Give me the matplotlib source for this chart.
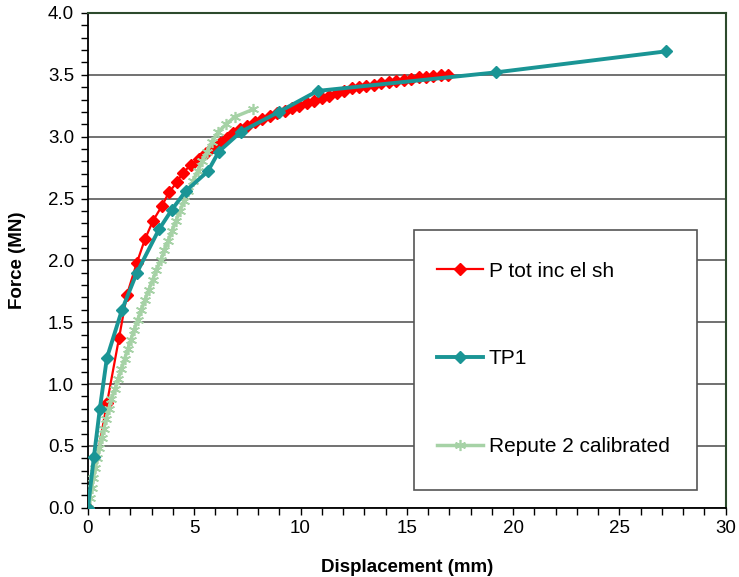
import numpy as np
import matplotlib
matplotlib.use("Agg")
import matplotlib.pyplot as plt
from matplotlib.ticker import MultipleLocator
from matplotlib.patches import Rectangle

plt.rcParams['font.family'] = ['Liberation Sans', 'DejaVu Sans']

# P tot inc el sh
ptot_x = [0, 0.9, 1.46, 1.83, 2.3, 2.68, 3.06, 3.48, 3.81, 4.18, 4.47, 4.84, 5.22, 5.55,
          5.88, 6.2, 6.53, 6.82, 7.15, 7.5, 7.85, 8.2, 8.55, 8.9, 9.25, 9.6, 9.95, 10.3,
          10.65, 11.0, 11.35, 11.7, 12.05, 12.4, 12.75, 13.1, 13.45, 13.8, 14.15, 14.5,
          14.85, 15.2, 15.55, 15.9, 16.25, 16.6, 16.95]
ptot_y = [0, 0.85, 1.37, 1.72, 1.98, 2.17, 2.32, 2.44, 2.55, 2.63, 2.71, 2.77, 2.82, 2.87,
          2.92, 2.95, 2.99, 3.03, 3.06, 3.09, 3.12, 3.14, 3.17, 3.19, 3.21, 3.23, 3.25, 3.27,
          3.29, 3.31, 3.33, 3.35, 3.37, 3.39, 3.40, 3.41, 3.42, 3.43, 3.44, 3.45,
          3.46, 3.47, 3.48, 3.48, 3.49, 3.50, 3.50]

# TP1
tp1_x = [0, 0.28, 0.56, 0.89, 1.6, 2.3, 3.34, 3.95, 4.6, 5.64, 6.16, 7.2, 8.98, 10.8, 19.2, 27.2]
tp1_y = [0, 0.41, 0.80, 1.21, 1.60, 1.90, 2.25, 2.41, 2.56, 2.72, 2.88, 3.04, 3.20, 3.37, 3.52, 3.69]

# Repute 2 calibrated
rep_x = [0.00, 0.08, 0.17, 0.26, 0.35, 0.44, 0.54, 0.64, 0.75, 0.86, 0.98, 1.10, 1.28, 1.42,
         1.57, 1.72, 1.87, 2.02, 2.18, 2.34, 2.51, 2.68, 2.86, 3.04, 3.22, 3.42, 3.60, 3.78,
         3.96, 4.14, 4.33, 4.52, 4.72, 4.94, 5.16, 5.38, 5.60, 5.84, 6.14, 6.50, 6.90, 7.76]
rep_y = [0.00, 0.08, 0.16, 0.24, 0.32, 0.40, 0.48, 0.56, 0.64, 0.72, 0.80, 0.88, 0.96, 1.04,
         1.12, 1.20, 1.28, 1.36, 1.44, 1.52, 1.60, 1.68, 1.76, 1.84, 1.92, 2.00, 2.08, 2.16,
         2.24, 2.32, 2.40, 2.48, 2.56, 2.64, 2.72, 2.80, 2.88, 2.96, 3.04, 3.10, 3.16, 3.22]

RED = '#FF0000'
TEAL = '#1A9595'
LGREEN = '#A6D2A6'

fig = plt.figure(figsize=(7.39, 5.77), dpi=100)
ax = fig.add_axes([0.119, 0.12, 0.863, 0.8575])

ax.plot(ptot_x, ptot_y, color=RED, lw=1.6, marker='D', ms=6,
        label='P tot inc el sh', zorder=3)
ax.plot(tp1_x, tp1_y, color=TEAL, lw=2.8, marker='D', ms=6.5,
        label='TP1', zorder=5)
ax.plot(rep_x, rep_y, color=LGREEN, lw=2.5, marker=(6, 2, 0), ms=8, mew=1.2,
        label='Repute 2 calibrated', zorder=4)

ax.set_xlim(0, 30)
ax.set_ylim(0, 4.0)
ax.xaxis.set_major_locator(MultipleLocator(5))
ax.xaxis.set_minor_locator(MultipleLocator(1))
ax.yaxis.set_major_locator(MultipleLocator(0.5))
ax.yaxis.set_minor_locator(MultipleLocator(0.1))
ax.yaxis.set_major_formatter(matplotlib.ticker.FormatStrFormatter('%.1f'))
ax.tick_params(which='both', direction='out', length=5, width=1, labelsize=13.5, colors='black')
ax.tick_params(axis='x', pad=4)
ax.tick_params(axis='y', pad=5)

ax.grid(axis='y', which='major', color='#4a4a4a', lw=1.1)
ax.set_axisbelow(True)

for s in ['left', 'bottom']:
    ax.spines[s].set_color('black')
    ax.spines[s].set_linewidth(1.3)
for s in ['top', 'right']:
    ax.spines[s].set_color('#2C4A2C')
    ax.spines[s].set_linewidth(1.5)

ax.set_xlabel('Displacement (mm)', fontsize=13.5, fontweight='bold', labelpad=16)
ax.set_ylabel('Force (MN)', fontsize=13.5, fontweight='bold', labelpad=16)

# legend box drawn separately so its size can match
box = Rectangle((0.511, 0.036), 0.4435, 0.526, transform=ax.transAxes,
                facecolor='white', edgecolor='#555555', lw=1.2, zorder=6)
ax.add_patch(box)

handles, labels = ax.get_legend_handles_labels()
leg = ax.legend(handles, labels, loc='center left',
                bbox_to_anchor=(0.511, 0.301), fontsize=15, frameon=False,
                labelspacing=3.3, borderpad=1.1, handlelength=2.2, handletextpad=0.3,
                borderaxespad=0)
leg.set_zorder(7)

fig.savefig('out.png', dpi=100)
